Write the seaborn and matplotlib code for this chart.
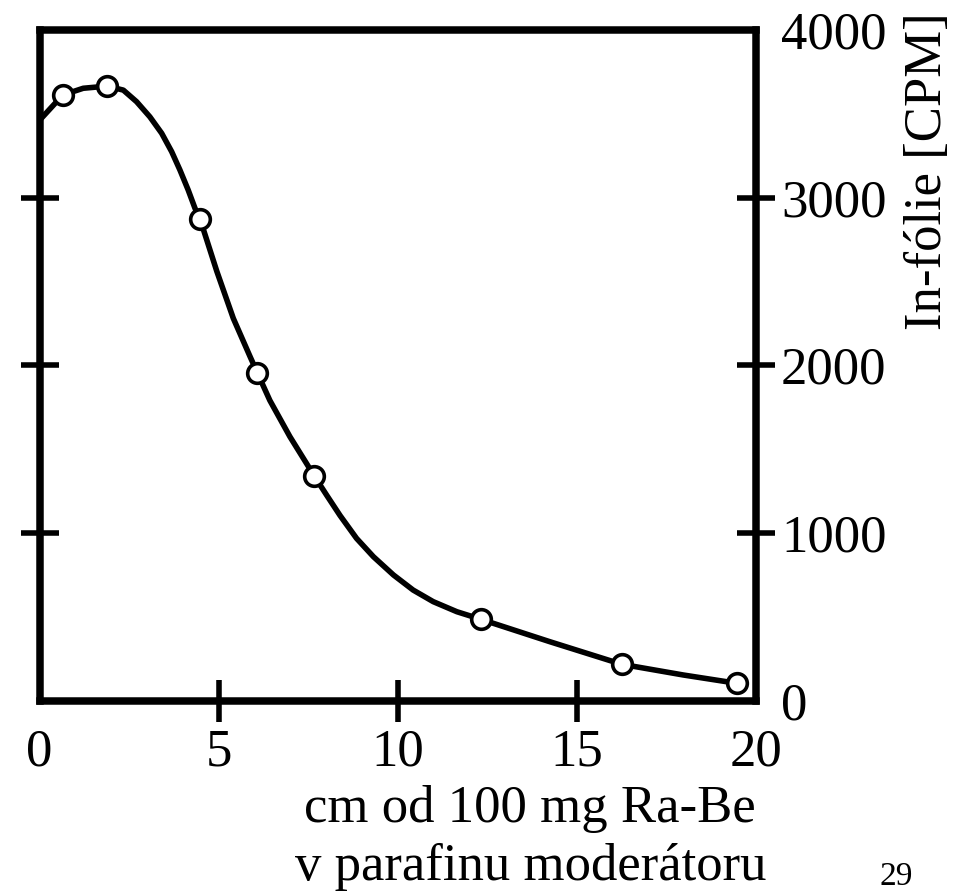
import matplotlib
matplotlib.use("Agg")
import matplotlib.pyplot as plt
import seaborn as sns

# Measured points (open circles)
dist_cm = [0.65, 1.89, 4.48, 6.08, 7.67, 12.32, 16.25, 19.48]
counts_cpm = [3611, 3664, 2873, 1956, 1341, 487, 219, 105]

# Hand-drawn smooth curve, read along its path
curve_cm = [0.0, 0.65, 1.22, 1.89, 2.34, 2.71, 3.08, 3.41, 3.69, 3.92, 4.15,
            4.34, 4.48, 4.95, 5.41, 5.88, 6.08, 6.43, 6.99, 7.67, 8.02, 8.39,
            8.85, 9.32, 9.88, 10.43, 10.99, 11.65, 12.32, 14.25, 16.25, 17.97,
            19.48]
curve_cpm = [3460, 3611, 3651, 3664, 3640, 3571, 3481, 3383, 3273, 3164, 3045,
             2936, 2873, 2560, 2280, 2051, 1956, 1791, 1575, 1341, 1225, 1105,
             969, 860, 751, 661, 592, 532, 487, 353, 219, 155,
             105]

x_ticks = [0, 5, 10, 15, 20]
x_tick_marks = [5, 10, 15]
y_ticks = [0, 1000, 2000, 3000, 4000]
y_tick_marks = [1000, 2000, 3000]
x_label = "cm od 100 mg Ra-Be\nv parafinu moderátoru"
y_label = "In-fólie [CPM]"
page_no = "29"

sns.set_theme(style="white")
plt.rcParams["font.family"] = ["Liberation Serif", "DejaVu Serif"]
plt.rcParams["text.color"] = "black"
plt.rcParams["axes.labelcolor"] = "black"

W, H = 966, 892
fig = plt.figure(figsize=(W / 100, H / 100), dpi=100)
left, right, top, bottom = 39.5, 756.0, 29.7, 701.0
ax = fig.add_axes([left / W, (H - bottom) / H, (right - left) / W, (bottom - top) / H])

sns.lineplot(x=curve_cm, y=curve_cpm, sort=False, estimator=None,
             color="black", linewidth=4.0, solid_joinstyle="round", ax=ax)
sns.scatterplot(x=dist_cm, y=counts_cpm, s=200, color="white",
                edgecolor="black", linewidth=2.6, ax=ax, zorder=3)

ax.set_xlim(0, 20)
ax.set_ylim(0, 4000)

for s in ax.spines.values():
    s.set_visible(True)
    s.set_linewidth(5.4)
    s.set_color("black")

ax.xaxis.remove_overlapping_locs = False
ax.yaxis.remove_overlapping_locs = False

# labels (major, no tick lines)
ax.set_xticks(x_ticks)
ax.set_xticklabels([str(v) for v in x_ticks])
ax.set_yticks(y_ticks)
ax.set_yticklabels([str(v) for v in y_ticks])
ax.tick_params(axis="x", which="major", bottom=True, length=0, labelsize=38,
               pad=19.5, labelcolor="black")
ax.tick_params(axis="y", which="major", left=False, right=True, labelleft=False,
               labelright=True, length=0, labelsize=38, pad=18, labelcolor="black")

# tick marks (minor, crossing the frame)
ax.set_xticks(x_tick_marks, minor=True)
ax.set_yticks(y_tick_marks, minor=True)
ax.tick_params(axis="x", which="minor", bottom=True, direction="inout",
               length=30, width=4, color="black")
ax.tick_params(axis="y", which="minor", left=True, right=True, direction="inout",
               length=28, width=4, color="black")

ax.set_xlabel(x_label, fontsize=38, linespacing=1.28)
ax.xaxis.set_label_coords(0.685, -0.125)

ax.set_ylabel(y_label, fontsize=38)
ax.yaxis.set_label_position("right")
ax.yaxis.label.set_rotation_mode("default")
ax.yaxis.label.set_verticalalignment("center")
ax.yaxis.label.set_horizontalalignment("center")
ax.yaxis.set_label_coords(1.240, 0.7895)

fig.text(896 / W, 1 - 885 / H, page_no, fontsize=24, ha="center", va="baseline")

fig.savefig("out.png", dpi=100, facecolor="white")
